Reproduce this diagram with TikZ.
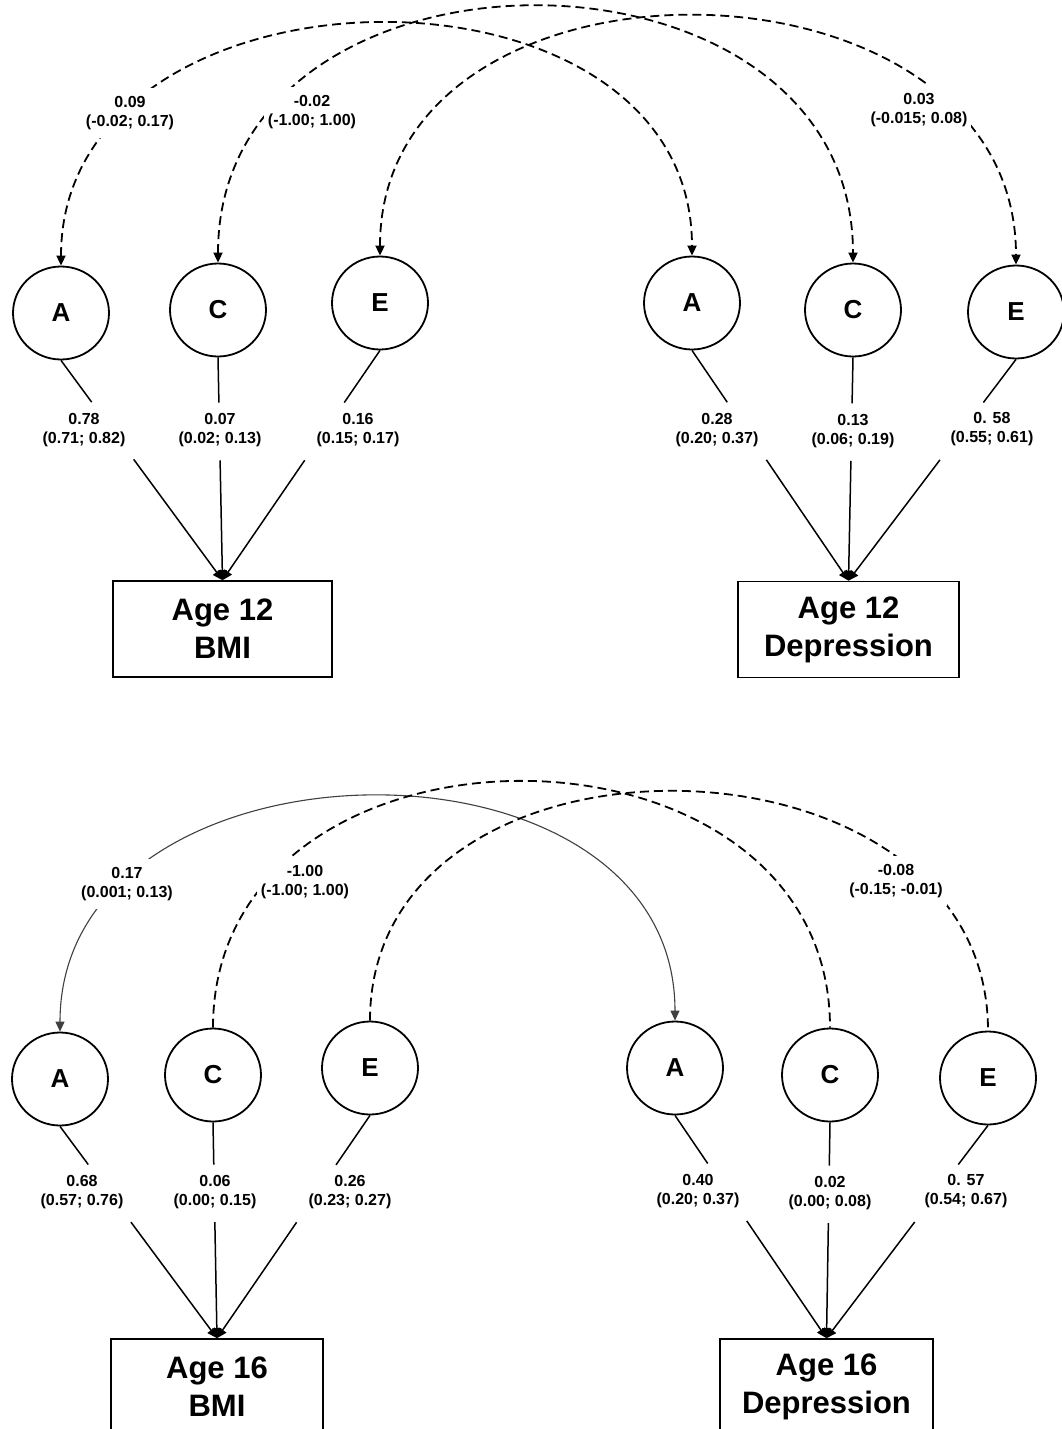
\documentclass[tikz,border=0pt]{standalone}
\usepackage{fontspec}
\setmainfont{Liberation Sans}
\usetikzlibrary{shapes.geometric,arrows.meta,calc}
\begin{document}
\begin{tikzpicture}[x=1pt,y=-1pt,
  lat/.style={draw,ellipse,line width=1.8pt,minimum width=96pt,minimum height=93pt,inner sep=0pt,font=\fontsize{26}{30}\selectfont\bfseries},
  obs/.style={draw,rectangle,line width=1.6pt,minimum height=96pt,align=center,font=\fontsize{31}{38}\selectfont\bfseries},
  lbl/.style={align=center,font=\fontsize{16}{19}\selectfont\bfseries,inner sep=0pt},
  clbl/.style={lbl,fill=white,inner xsep=4pt,inner ysep=8pt},
  load/.style={line width=1.5pt},
  tip/.style={-{Triangle[length=10pt,width=9pt]}},
  cov/.style={line width=1.8pt,dash pattern=on 9pt off 5pt},
  both/.style={{Triangle[length=10pt,width=9pt]}-{Triangle[length=10pt,width=9pt]}},
  solidcov/.style={line width=1.1pt,black!75},
]
\clip (0,0) rectangle (1062,1429);
\fill[white] (0,0) rectangle (1062,1429);

% ---------- top panel ----------
\node[lat] (A1) at (61,313) {A};
\node[lat] (C1) at (218,310) {C};
\node[lat] (E1) at (380,303) {E};
\node[lat] (A2) at (692,303) {A};
\node[lat] (C2) at (853,310) {C};
\node[lat] (E2) at (1016,312) {E};
\node[obs,minimum width=219pt] (B12) at (222.5,629) {Age 12\\BMI};
\node[obs,minimum width=221pt] (D12) at (848.5,629.5) {Age 12\\Depression};

% ---------- bottom panel ----------
\node[lat] (A3) at (60,1079) {A};
\node[lat] (C3) at (213,1075) {C};
\node[lat] (E3) at (370,1068) {E};
\node[lat] (A4) at (675,1068) {A};
\node[lat] (C4) at (830,1075) {C};
\node[lat] (E4) at (988,1078) {E};
\node[obs,minimum width=212pt] (B16) at (217,1387) {Age 16\\BMI};
\node[obs,minimum width=213pt] (D16) at (826.5,1387) {Age 16\\Depression};

% ---------- loadings ----------
\foreach \n/\b/\p/\q in {A1/B12/0.19/0.45, C1/B12/0.203/0.462, E1/B12/0.227/0.478,
  A2/D12/0.225/0.475, C2/D12/0.206/0.463, E2/D12/0.195/0.454,
  A3/B16/0.18/0.452, C3/B16/0.196/0.462, E3/B16/0.222/0.48,
  A4/D16/0.216/0.474, C4/D16/0.20/0.467, E4/D16/0.184/0.454}{
  \draw[load] (\n.south) -- ($(\n.south)!\p!(\b.north)$);
  \draw[load,tip] ($(\n.south)!\q!(\b.north)$) -- (\b.north);
}
\node[lbl] (lA1) at (84,430) {0.78\\(0.71; 0.82)};
\node[lbl] (lC1) at (220,430) {0.07\\(0.02; 0.13)};
\node[lbl] (lE1) at (358,430) {0.16\\(0.15; 0.17)};
\node[lbl] (lA2) at (717,430) {0.28\\(0.20; 0.37)};
\node[lbl] (lC2) at (853,431) {0.13\\(0.06; 0.19)};
\node[lbl] (lE2) at (992,429) {0. 58\\(0.55; 0.61)};
\node[lbl] (lA3) at (82,1192) {0.68\\(0.57; 0.76)};
\node[lbl] (lC3) at (215,1192) {0.06\\(0.00; 0.15)};
\node[lbl] (lE3) at (350,1192) {0.26\\(0.23; 0.27)};
\node[lbl] (lA4) at (698,1191) {0.40\\(0.20; 0.37)};
\node[lbl] (lC4) at (830,1193) {0.02\\(0.00; 0.08)};
\node[lbl] (lE4) at (966,1191) {0. 57\\(0.54; 0.67)};

% ---------- covariances, top ----------
\draw[cov,both] (A1.north) .. controls ($(A1.north)+(0,-315)$) and ($(A2.north)+(0,-315)$) .. (A2.north);
\draw[cov,both] (C1.north) .. controls ($(C1.north)+(0,-340)$) and ($(C2.north)+(0,-340)$) .. (C2.north);
\draw[cov,both] (E1.north) .. controls ($(E1.north)+(0,-324)$) and ($(E2.north)+(0,-324)$) .. (E2.north);
\node[clbl] (cA12) at (130,113) {0.09\\(-0.02; 0.17)};
\node[clbl] (cC12) at (312,112) {-0.02\\(-1.00; 1.00)};
\node[clbl] (cE12) at (919,110) {0.03\\(-0.015; 0.08)};

% ---------- covariances, bottom ----------
\draw[solidcov,both] (A3.north) .. controls ($(A3.north)+(0,-305)$) and ($(A4.north)+(0,-305)$) .. (A4.north);
\draw[cov] (C3.north) .. controls ($(C3.north)+(0,-329)$) and ($(C4.north)+(0,-329)$) .. (C4.north);
\draw[cov] (E3.north) .. controls ($(E3.north)+(0,-313)$) and ($(E4.north)+(0,-313)$) .. (E4.north);
\node[clbl] (cA16) at (127,884) {0.17\\(0.001; 0.13)};
\node[clbl] (cC16) at (305,882) {-1.00\\(-1.00; 1.00)};
\node[clbl] (cE16) at (896,881) {-0.08\\(-0.15; -0.01)};
\end{tikzpicture}
\end{document}
